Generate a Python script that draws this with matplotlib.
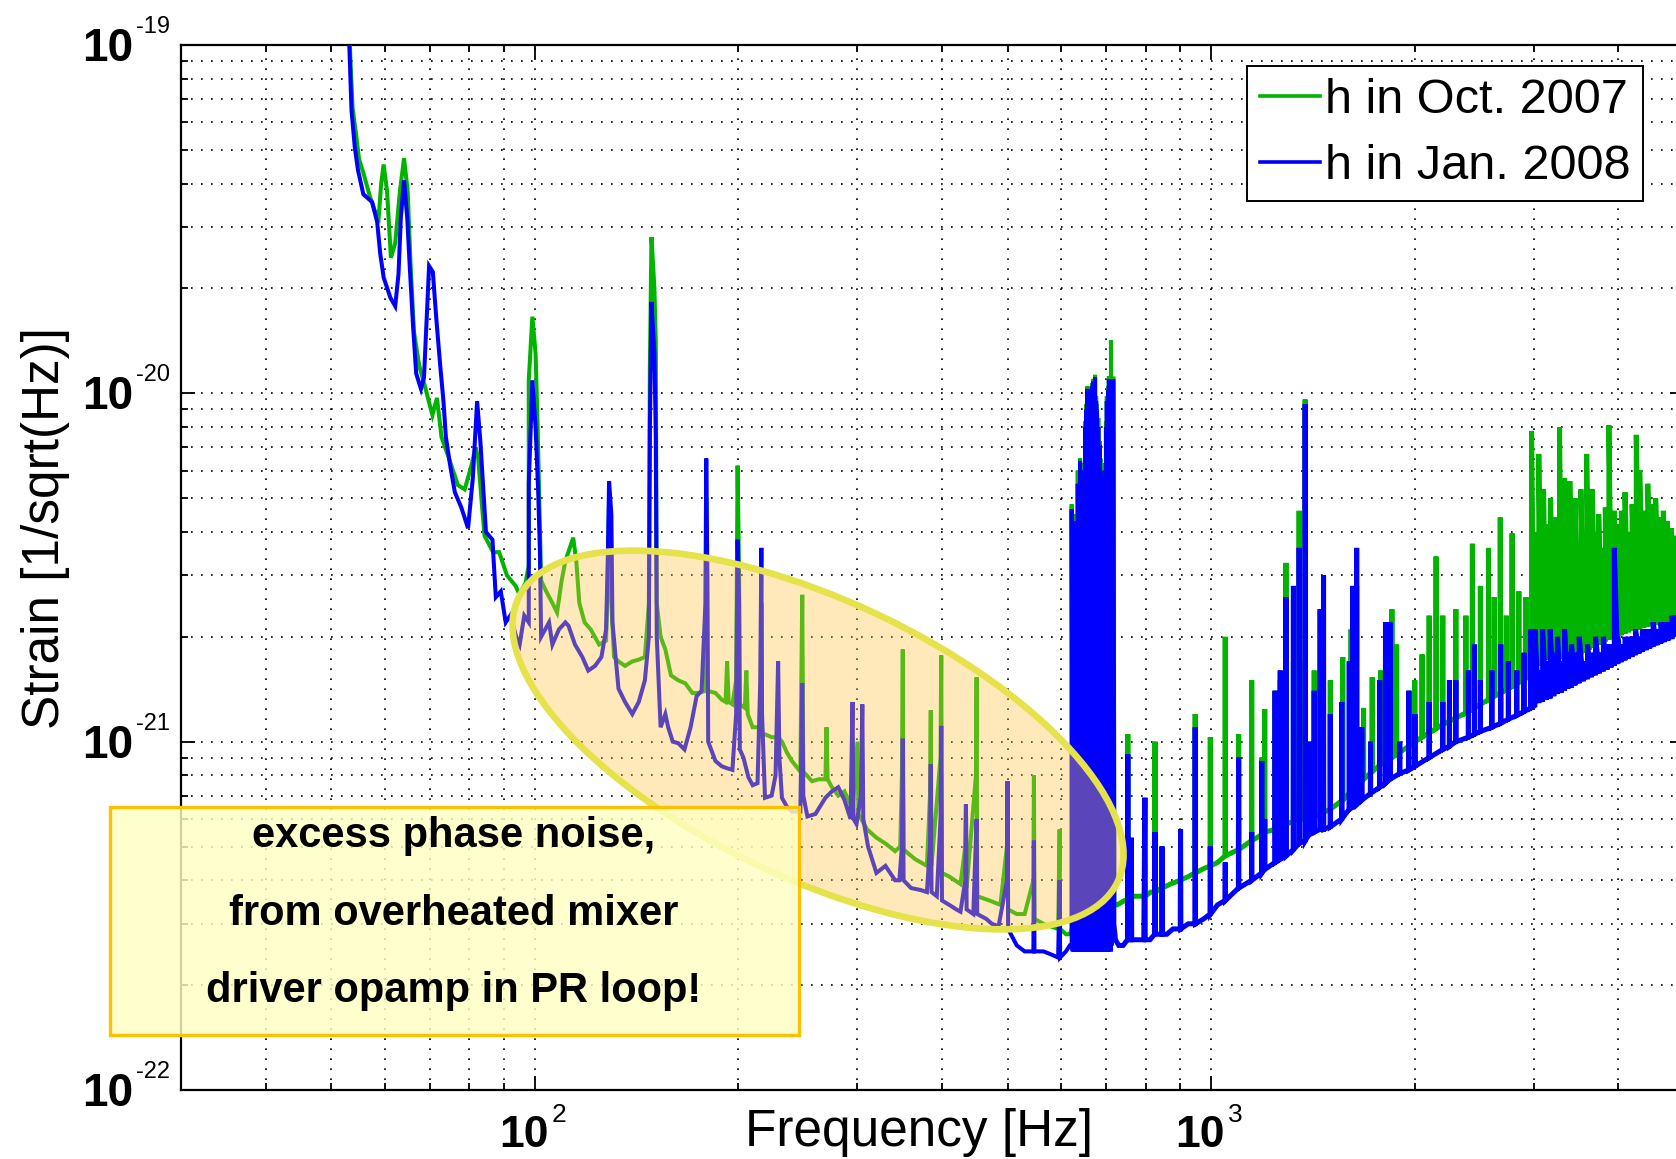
import numpy as np
import matplotlib
matplotlib.use("Agg")
import matplotlib.pyplot as plt
from matplotlib import patches, font_manager as fm
from matplotlib import transforms as mtransforms
from matplotlib.ticker import LogLocator, NullFormatter

# ---------------- data (strain in units of 1e-21 / sqrt(Hz)) ----------------
BLUE_LOW = [
    (52.8, 150), (53.2, 100), (53.6, 65), (54.2, 51), (54.8, 43.7), (55.8, 37.3), (57.5, 35.4),
    (58.5, 31), (59.1, 25.2), (59.8, 21.5), (61.2, 18.8), (62.2, 17.8), (62.9, 22), (63.4, 31.9),
    (64.1, 40.9), (64.8, 31.9), (65.3, 23.8), (66.1, 15.6), (66.8, 11.4), (67.9, 10.3), (68.6, 11.1),
    (69.2, 16.1), (69.8, 23.2), (70.7, 22.3), (71.5, 16.6), (72.5, 12.0), (73.3, 9.5), (73.9, 7.5),
    (75.0, 6.2), (76.2, 5.2), (77.9, 4.7), (79.7, 4.1), (81.0, 5.7), (82.2, 9.5), (83.1, 7.3),
    (83.8, 5.6), (84.7, 4.0), (86.6, 3.8), (87.6, 2.6), (89.1, 2.7), (90.6, 2.2), (92.0, 2.3),
    (93.9, 2.0), (95.0, 1.9), (96.5, 2.3), (98.0, 2.2), (98.0, 5.5), (99.2, 10.9), (100.3, 8.0),
    (101.2, 5.2), (101.8, 3.5), (102.2, 2.0), (105, 2.2), (106.2, 1.9), (108.6, 2.1), (111, 2.2),
    (112.2, 2.15), (114.7, 1.9), (117.6, 1.75), (120, 1.6), (122.8, 1.65), (125.5, 1.75), (127.5, 2.1),
    (128.3, 3.5), (128.8, 5.6), (129.8, 4.5), (130.3, 2.2), (133, 1.42), (136, 1.3), (139.4, 1.2),
    (142.5, 1.3), (145.5, 1.5), (147.5, 2.0), (148.0, 8.0), (148.8, 18.3), (150.3, 13.0), (151.0, 7.5),
    (151.5, 2.0), (153.5, 1.1), (156, 1.2), (157.5, 1.1), (160, 1.0), (163, 0.99), (166.5, 0.95),
    (170, 1.1), (173.5, 1.35), (176.5, 1.4), (178.8, 2.5), (179.3, 6.5), (180, 3.0), (180.5, 1.0),
    (185, 0.88), (189, 0.85), (192, 0.84), (196, 0.83), (198.5, 1.2), (199.5, 3.8), (200.5, 2.5),
    (201, 0.95), (203.5, 0.9), (207, 0.79), (210, 0.75), (213.5, 0.76), (215.5, 1.5), (216.3, 3.6),
    (216.8, 1.2), (219, 0.69), (224, 0.7), (227, 0.8), (229, 1.7), (230, 0.9), (232, 0.69), (236, 0.65),
    (240, 0.63), (247, 0.63), (248.6, 1.47), (249.5, 0.7), (253, 0.61), (260, 0.62), (269, 0.69),
    (275, 0.72), (281, 0.74), (287, 0.68), (293, 0.6), (295, 1.3), (296, 0.6), (299, 0.58),
    (303.5, 0.7), (305, 1.28), (306, 0.6), (311, 0.5), (320, 0.42), (330, 0.44), (341, 0.40),
    (346, 0.40), (349, 0.5), (350, 1.02), (351, 0.4), (360, 0.38), (372, 0.375), (380, 0.37),
    (384, 0.5), (385, 0.86), (386, 0.37), (393, 0.36), (398, 0.6), (399, 1.11), (400, 0.35),
    (410, 0.34), (420, 0.33), (426, 0.325), (433, 0.4), (434, 0.66), (435, 0.33), (445, 0.32),
    (450, 0.6), (451, 0.32), (465, 0.31), (474, 0.30), (485, 0.295), (499, 0.4), (500, 0.77),
    (501, 0.29), (516, 0.26), (530, 0.25), (546, 0.25), (547, 0.52), (548, 0.25), (565, 0.25),
    (580, 0.245), (594, 0.24), (597, 0.4), (598, 0.24), (610, 0.25), (618, 0.26),
]

GREEN_LOW = [
    (52.8, 150), (53.3, 100), (53.8, 66), (54.4, 56), (55.0, 47), (55.8, 43), (57.0, 37), (58.0, 33.5),
    (58.8, 32), (59.3, 40), (59.8, 45.4), (60.5, 38), (61.3, 24.5), (62.2, 27), (63.2, 38), (64.1, 47.3),
    (64.9, 38), (65.5, 24), (66.3, 15), (67.5, 12), (68.8, 10.5), (70.6, 8.65), (71.7, 9.7), (72.8, 7.5),
    (74.5, 6.6), (77.0, 5.45), (78.8, 5.3), (80.6, 6.2), (81.8, 7.0), (82.5, 6.5), (83.4, 5.0),
    (84.3, 3.9), (86.8, 3.5), (88.6, 3.5), (91.0, 3.0), (93.7, 2.8), (94.9, 2.65), (96.9, 2.85),
    (98.0, 3.2), (98.0, 10.9), (99.2, 16.6), (100.3, 13.0), (101.0, 8.0), (101.8, 4.0), (102.2, 2.9),
    (104, 2.7), (106.2, 2.5), (107.9, 2.35), (109.6, 2.9), (111, 3.3), (112.7, 3.6), (114, 3.85),
    (115.2, 3.3), (116.4, 2.5), (118.5, 2.2), (121, 2.1), (124.5, 1.9), (127.5, 1.95), (128.3, 3.0),
    (128.8, 5.0), (129.8, 2.5), (131, 1.75), (133, 1.7), (136, 1.65), (139.4, 1.7), (142.5, 1.72),
    (145.5, 1.75), (147.5, 2.5), (148.0, 12), (148.8, 28.1), (150.3, 20), (151.0, 14), (151.5, 2.5),
    (153.5, 2.0), (156, 1.84), (159, 1.55), (163, 1.5), (167, 1.47), (171, 1.38), (175, 1.38),
    (178.8, 1.4), (179.3, 5.0), (179.8, 1.4), (185, 1.38), (189, 1.32), (191.5, 1.3), (192.5, 1.7),
    (193.5, 1.3), (196, 1.28), (198.5, 1.5), (199.5, 6.2), (200.5, 3.0), (201, 1.28), (204.5, 1.25),
    (205.5, 1.6), (206.5, 1.2), (210, 1.1), (215.5, 1.1), (216.3, 2.5), (216.8, 1.05), (219, 1.05),
    (224, 1.03), (229, 1.03), (232, 1.0), (236, 0.93), (240, 0.88), (247, 0.82), (248.6, 2.64),
    (249.5, 0.82), (257, 0.77), (263, 0.78), (269, 0.78), (270, 1.1), (271, 0.78), (275, 0.74),
    (281, 0.70), (287, 0.72), (295, 0.64), (300, 1.0), (301, 0.62), (310, 0.56), (320, 0.53),
    (330, 0.51), (341, 0.485), (347, 0.50), (349, 0.8), (350, 1.84), (351, 0.49), (365, 0.46),
    (380, 0.44), (384, 0.7), (385, 1.23), (386, 0.44), (398, 0.9), (399, 1.77), (400, 0.42),
    (410, 0.41), (426, 0.39), (433, 0.5), (434, 0.66), (435, 0.38), (449, 0.8), (450, 1.53),
    (451, 0.36), (470, 0.35), (488, 0.34), (499, 0.5), (500, 0.77), (501, 0.33), (516, 0.32),
    (530, 0.32), (546, 0.4), (547, 0.8), (548, 0.31), (565, 0.30), (594, 0.29), (597, 0.56),
    (598, 0.29), (610, 0.28), (618, 0.28),
]

# dense line cluster 620-720 Hz
BLOCK_F = [622, 624, 626, 628, 631, 633, 635, 638, 640, 642, 644, 647, 649, 651, 654, 656, 658,
           660, 662, 664, 667, 669, 671, 673.5, 676, 678, 681, 684, 686, 689, 691, 693, 695, 697,
           699, 701, 704, 706, 708, 711, 713, 716]
BLUE_BLOCK_TOP = [4.65, 3.0, 4.3, 2.5, 4.0, 3.5, 5.5, 4.0, 6.4, 4.5, 5.2, 4.9, 6.0, 8.0, 9.0, 10.3,
                  9.5, 10.2, 9.8, 10.2, 10.5, 10.8, 10.4, 11.1, 9.5, 9.0, 8.0, 7.1, 6.0, 5.5, 4.0,
                  2.34, 3.5, 6.0, 8.0, 9.5, 10.2, 10.95, 10.5, 10.8, 10.6, 10.8]
BLUE_BLOCK_BOT = [0.26, 0.25, 0.26, 0.25, 0.26, 0.25, 0.26, 0.25, 0.26, 0.25, 0.26, 0.25, 0.26, 0.25,
                  0.26, 0.25, 0.26, 0.25, 0.26, 0.25, 0.26, 0.25, 0.26, 0.25, 0.26, 0.25, 0.26, 0.25,
                  0.26, 0.25, 0.26, 0.25, 0.26, 0.25, 0.26, 0.25, 0.26, 0.25, 0.26, 0.25, 0.26, 0.27]
GREEN_BLOCK_TOP = [4.8, 3.2, 4.5, 2.7, 4.3, 3.7, 6.0, 4.3, 6.5, 4.7, 5.5, 5.2, 6.3, 8.3, 9.3, 10.5,
                   9.7, 10.4, 10.0, 10.4, 10.7, 11.0, 10.6, 11.3, 9.8, 9.3, 8.5, 7.3, 6.5, 6.0, 5.8,
                   2.6, 3.8, 6.3, 8.3, 9.8, 10.5, 11.2, 11.0, 14.2, 10.9, 11.0]
GREEN_BLOCK_BOT = [0.29, 0.28, 0.29, 0.28, 0.29, 0.28, 0.29, 0.28, 0.29, 0.28, 0.29, 0.28, 0.29, 0.28,
                   0.29, 0.28, 0.29, 0.28, 0.29, 0.28, 0.29, 0.28, 0.29, 0.28, 0.29, 0.28, 0.29, 0.28,
                   0.29, 0.28, 0.29, 0.28, 0.29, 0.28, 0.29, 0.28, 0.29, 0.28, 0.29, 0.28, 0.29, 0.30]

BLUE_HIGH = [
    (718, 0.30), (722, 0.27), (730, 0.26), (741, 0.26), (752, 0.27), (753, 0.92), (754, 0.27),
    (761, 0.27), (762, 0.53), (763, 0.27), (780, 0.27), (795, 0.27), (798, 0.69), (799, 0.27),
    (812, 0.27), (825, 0.28), (826, 0.55), (827, 0.28), (845, 0.28), (846, 0.50), (847, 0.28),
    (860, 0.28), (878, 0.29), (900, 0.29), (901, 0.56), (902, 0.29), (925, 0.30), (946, 0.30),
    (947, 1.1), (948, 0.30), (975, 0.31), (996, 0.32), (997, 0.50), (998, 0.32), (1022, 0.34),
    (1048, 0.35), (1049, 0.45), (1050, 0.35), (1097, 0.38), (1098, 0.90), (1099, 0.38), (1147, 0.40),
    (1148, 0.55), (1149, 0.40), (1187, 0.42), (1188, 0.88), (1189, 0.42), (1199, 0.43), (1200, 0.60),
    (1201, 0.43), (1242, 0.45), (1243, 1.4), (1244, 0.45), (1264, 0.46), (1265, 1.6), (1266, 0.46),
    (1289, 0.47), (1290, 2.6), (1291, 0.47), (1322, 0.49), (1323, 2.8), (1324, 0.49), (1348, 0.51),
    (1349, 3.6), (1350, 0.51), (1376, 0.52), (1377, 9.3), (1378, 0.52), (1394, 0.54), (1395, 1.0),
    (1396, 0.54), (1419, 0.55), (1420, 1.4), (1421, 0.55), (1448, 0.56), (1449, 2.4), (1450, 0.56),
    (1465, 0.56), (1466, 3.0), (1467, 0.56), (1499, 0.57), (1500, 1.2), (1501, 0.57), (1559, 0.6),
    (1560, 1.3), (1561, 0.6), (1599, 0.64), (1600, 1.7), (1601, 0.64), (1619, 0.65), (1620, 2.8),
    (1621, 0.65), (1640, 0.66), (1641, 3.6), (1642, 0.66), (1669, 0.68), (1670, 1.1), (1671, 0.68),
    (1719, 0.71), (1720, 1.0), (1721, 0.71), (1774, 0.74), (1775, 1.5), (1776, 0.74), (1809, 0.76),
    (1810, 2.2), (1811, 0.76), (1837, 0.78), (1838, 2.2), (1839, 0.78), (1899, 0.81), (1900, 1.0),
    (1901, 0.81), (1959, 0.83), (1960, 1.4), (1961, 0.83), (2000, 0.85), (2001, 1.2), (2002, 0.85),
    (2099, 0.9), (2100, 1.3), (2101, 0.9), (2199, 0.95), (2200, 1.3), (2201, 0.95), (2249, 0.97),
    (2250, 1.5), (2251, 0.97), (2299, 1.0), (2300, 1.5), (2301, 1.0), (2399, 1.03), (2400, 1.6),
    (2401, 1.03), (2449, 1.05), (2450, 1.9), (2451, 1.05), (2499, 1.07), (2500, 1.5), (2501, 1.07),
    (2599, 1.1), (2600, 1.6), (2601, 1.1), (2679, 1.13), (2680, 1.9), (2681, 1.13), (2749, 1.16),
    (2750, 1.7), (2751, 1.16), (2829, 1.19), (2830, 1.6), (2831, 1.19), (2899, 1.22), (2900, 1.8),
    (2901, 1.22), (2969, 1.25), (2970, 2.1), (2971, 1.25),
]

GREEN_HIGH = [
    (718, 0.34), (722, 0.34), (726, 0.34), (745, 0.35), (752, 0.35), (753, 1.05), (754, 0.35),
    (769, 0.36), (797, 0.36), (798, 0.69), (799, 0.36), (814, 0.37), (825, 0.37), (826, 1.0),
    (827, 0.37), (845, 0.38), (846, 0.5), (847, 0.38), (870, 0.39), (900, 0.40), (925, 0.41),
    (946, 0.42), (947, 1.2), (948, 0.42), (970, 0.43), (996, 0.44), (997, 1.03), (998, 0.44),
    (1022, 0.45), (1048, 0.47), (1049, 2.0), (1050, 0.47), (1097, 0.49), (1098, 1.05), (1099, 0.49),
    (1147, 0.52), (1148, 1.5), (1149, 0.52), (1187, 0.54), (1188, 0.9), (1189, 0.54), (1199, 0.55),
    (1200, 1.24), (1201, 0.55), (1242, 0.56), (1243, 1.4), (1244, 0.56), (1264, 0.57), (1265, 1.5),
    (1266, 0.57), (1289, 0.58), (1290, 3.26), (1291, 0.58), (1322, 0.59), (1323, 1.7), (1324, 0.59),
    (1348, 0.6), (1349, 4.6), (1350, 0.6), (1364, 0.6), (1365, 1.7), (1366, 0.6), (1376, 0.6),
    (1377, 9.6), (1378, 0.6), (1419, 0.61), (1420, 1.6), (1421, 0.61), (1448, 0.62), (1449, 1.6),
    (1450, 0.62), (1499, 0.64), (1500, 1.5), (1501, 0.64), (1564, 0.68), (1565, 1.75), (1566, 0.68),
    (1609, 0.72), (1610, 2.1), (1611, 0.72), (1640, 0.74), (1641, 2.8), (1642, 0.74), (1679, 0.78),
    (1680, 1.25), (1681, 0.78), (1729, 0.82), (1730, 1.53), (1731, 0.82), (1779, 0.86), (1780, 1.6),
    (1781, 0.86), (1849, 0.9), (1850, 2.4), (1851, 0.9), (1879, 0.92), (1880, 1.9), (1881, 0.92),
    (1959, 0.97), (1960, 1.4), (1961, 0.97), (1999, 1.0), (2000, 1.5), (2001, 1.0), (2049, 1.03),
    (2050, 1.78), (2051, 1.03), (2099, 1.06), (2100, 2.3), (2101, 1.06), (2149, 1.09), (2150, 3.4),
    (2151, 1.09), (2199, 1.12), (2200, 2.3), (2201, 1.12), (2299, 1.17), (2300, 2.4), (2301, 1.17),
    (2379, 1.21), (2380, 2.3), (2381, 1.21), (2432, 1.24), (2433, 3.7), (2434, 1.24), (2499, 1.28),
    (2500, 2.8), (2501, 1.28), (2569, 1.32), (2570, 3.6), (2571, 1.32), (2619, 1.35), (2620, 2.6),
    (2621, 1.35), (2674, 1.38), (2675, 4.4), (2676, 1.38), (2729, 1.41), (2730, 2.3), (2731, 1.41),
    (2784, 1.44), (2785, 3.96), (2786, 1.44), (2849, 1.48), (2850, 2.7), (2851, 1.48), (2919, 1.52),
    (2920, 2.6), (2921, 1.52), (2950, 1.6),
]

# dense lines above 3 kHz
BLUE_HF_F = [3010, 3050, 3090, 3130, 3170, 3210, 3250, 3290, 3330, 3370, 3410, 3450, 3500, 3550,
             3600, 3650, 3700, 3750, 3800, 3850, 3900, 3944, 3990, 4040, 4090, 4140, 4190, 4240,
             4290, 4340, 4400, 4450, 4500, 4560, 4620, 4680, 4740, 4800, 4860, 4950]
BLUE_HF_TOP = [2.1, 1.6, 2.1, 1.7, 2.1, 1.8, 2.0, 1.7, 2.1, 1.8, 1.9, 1.8, 2.0, 1.7, 1.9, 1.8, 2.0,
               1.8, 2.0, 1.9, 1.9, 3.6, 2.0, 1.9, 2.0, 2.0, 2.0, 2.1, 2.0, 2.1, 2.1, 2.1, 2.2, 2.1,
               2.2, 2.2, 2.2, 2.3, 2.3, 2.3]
BLUE_HF_BOT = [1.27, 1.29, 1.3, 1.32, 1.33, 1.35, 1.37, 1.38, 1.4, 1.42, 1.43, 1.45, 1.47, 1.49,
               1.51, 1.53, 1.55, 1.57, 1.59, 1.61, 1.63, 1.65, 1.67, 1.69, 1.71, 1.73, 1.75, 1.77,
               1.79, 1.81, 1.83, 1.85, 1.87, 1.89, 1.91, 1.93, 1.95, 1.97, 2.0, 2.02]
GREEN_HF_F = [2976, 3000, 3025, 3050, 3075, 3100, 3125, 3150, 3175, 3200, 3225, 3250, 3273, 3300,
              3330, 3360, 3390, 3420, 3450, 3485, 3520, 3555, 3590, 3625, 3660, 3700, 3740, 3780,
              3825, 3872, 3910, 3944, 3990, 4040, 4090, 4140, 4190, 4250, 4300, 4360, 4420, 4480,
              4540, 4600, 4660, 4720, 4790, 4860, 4950]
GREEN_HF_TOP = [7.8, 4.0, 3.2, 6.7, 3.5, 5.3, 3.4, 4.2, 5.0, 3.6, 4.4, 3.5, 8.0, 4.0, 5.7, 3.8, 5.6,
                3.5, 5.0, 3.2, 5.3, 3.4, 6.7, 3.8, 5.3, 4.0, 4.5, 3.6, 4.7, 8.1, 4.4, 4.6, 4.2, 4.6,
                5.2, 4.0, 4.8, 7.6, 6.0, 4.6, 5.5, 4.8, 5.0, 4.4, 4.6, 4.3, 4.1, 3.9, 3.9]
GREEN_HF_BOT = [1.55, 1.6, 1.62, 1.65, 1.68, 1.7, 1.72, 1.74, 1.76, 1.78, 1.78, 1.76, 1.74, 1.73,
                1.72, 1.72, 1.73, 1.74, 1.74, 1.76, 1.78, 1.8, 1.82, 1.84, 1.86, 1.88, 1.9, 1.92,
                1.94, 1.96, 1.98, 2.0, 2.0, 2.02, 2.04, 2.06, 2.08, 2.1, 2.1, 2.12, 2.14, 2.15,
                2.16, 2.18, 2.19, 2.2, 2.21, 2.22, 2.24]

LABELS = ["h in Oct. 2007", "h in Jan. 2008"]
COLORS = ["#00b400", "#0000ff"]
X_TICKS = [100, 1000]
X_EXP = ["2", "3"]
Y_TICKS = [1e-22, 1e-21, 1e-20, 1e-19]
Y_EXP = ["-22", "-21", "-20", "-19"]
NOTE = ["excess phase noise,", "from overheated mixer", "driver opamp in PR loop!"]
UNIT = 1e-21


def pick(names):
    for n in names:
        try:
            fm.findfont(fm.FontProperties(family=n), fallback_to_default=False)
            return n
        except Exception:
            pass
    return "DejaVu Sans"


SANS = pick(["Liberation Sans", "Arial", "DejaVu Sans"])
NARROW = pick(["Liberation Sans Narrow", "Arial Narrow"])
HAS_NARROW = NARROW != "DejaVu Sans"
if not HAS_NARROW:
    NARROW = SANS


def zigzag(fs, tops, bots):
    out = []
    for f, t, b in zip(fs, tops, bots):
        out += [(f, b), (f, t)]
    return out


# part below ~720 Hz (thinner trace) and above (denser, thicker-looking trace)
green_a = GREEN_LOW + zigzag(BLOCK_F, GREEN_BLOCK_TOP, GREEN_BLOCK_BOT)
green_b = green_a[-1:] + GREEN_HIGH + zigzag(GREEN_HF_F, GREEN_HF_TOP, GREEN_HF_BOT)
blue_a = BLUE_LOW + zigzag(BLOCK_F, BLUE_BLOCK_TOP, BLUE_BLOCK_BOT)
blue_b = blue_a[-1:] + BLUE_HIGH + zigzag(BLUE_HF_F, BLUE_HF_TOP, BLUE_HF_BOT)

# ---------------- figure ----------------
W, H = 1676, 1159
fig = plt.figure(figsize=(W / 100, H / 100), dpi=100)
fig.patch.set_facecolor("white")
ax = fig.add_axes([181 / W, 1 - 1090 / H, (1684 - 181) / W, (1090 - 45) / H])
ax.set_xscale("log")
ax.set_yscale("log")

for seg, lw, lab in ((green_a, 2.9, LABELS[0]), (green_b, 3.6, None)):
    f, h = np.array(seg).T
    ax.plot(f, h * UNIT, color=COLORS[0], lw=lw, label=lab, zorder=3, solid_joinstyle="miter")
for seg, lw, lab in ((blue_a, 2.9, LABELS[1]), (blue_b, 3.6, None)):
    f, h = np.array(seg).T
    ax.plot(f, h * UNIT, color=COLORS[1], lw=lw, label=lab, zorder=4, solid_joinstyle="miter")

ax.set_xlim(30, 5000)
ax.set_ylim(1e-22, 1e-19)

for axis in (ax.xaxis, ax.yaxis):
    axis.set_major_locator(LogLocator(base=10, numticks=12))
    axis.set_minor_locator(LogLocator(base=10, subs=[2, 3, 4, 5, 6, 7, 8, 9], numticks=12))
    axis.set_major_formatter(NullFormatter())
    axis.set_minor_formatter(NullFormatter())

ax.grid(True, which="both", color="black", linestyle=(0, (1, 5)), linewidth=1.2, zorder=1)
ax.tick_params(which="both", direction="in", top=True, right=True, width=1.3, color="black")
ax.tick_params(which="major", length=10)
ax.tick_params(which="minor", length=5)
for s in ax.spines.values():
    s.set_linewidth(1.6)

# tick labels (10 with raised exponent)
def off(dx, dy):
    return mtransforms.ScaledTranslation(dx / 100, dy / 100, fig.dpi_scale_trans)

ytr = mtransforms.blended_transform_factory(fig.transFigure, ax.transData)
for v, e in zip(Y_TICKS, Y_EXP):
    fig.text(133 / W, v, "10", transform=ytr + off(0, -16), ha="right", va="baseline",
             fontsize=33, fontweight="bold", family=SANS)
    fig.text(136 / W, v, e, transform=ytr + off(0, 12), ha="left", va="baseline",
             fontsize=17, family=SANS)
xtr = mtransforms.blended_transform_factory(ax.transData, fig.transFigure)
for v, e in zip(X_TICKS, X_EXP):
    fig.text(v, 1 - 1147 / H, "10", transform=xtr + off(14, 0), ha="right", va="baseline",
             fontsize=32, fontweight="bold", family=SANS)
    fig.text(v, 1 - 1122 / H, e, transform=xtr + off(17, 0), ha="left", va="baseline",
             fontsize=19, family=SANS)

fig.text(919 / W, 1 - 1146 / H, "Frequency [Hz]", ha="center", va="baseline",
         fontsize=37, family=SANS)
fig.text(59 / W, 1 - 528 / H, "Strain [1/sqrt(Hz)]", ha="center", va="baseline",
         rotation=90, rotation_mode="anchor", fontsize=37, family=SANS)

handles, labels = ax.get_legend_handles_labels()
leg = ax.legend(handles, labels, loc="upper right", bbox_to_anchor=(1643 / W, 1 - 66 / H),
                bbox_transform=fig.transFigure, borderaxespad=0, fancybox=False,
                framealpha=1, edgecolor="black", prop={"family": SANS, "size": 35},
                handlelength=1.25, handletextpad=0.1, borderpad=0.25, labelspacing=0.42)
leg.get_frame().set_linewidth(1.4)
for l in leg.get_lines():
    l.set_linewidth(2.6)

# ellipse highlight, in figure pixel coordinates
pix = mtransforms.Affine2D().scale(1 / 100) + fig.dpi_scale_trans
ell = patches.Ellipse((818, H - 740), 663, 278, angle=-25.3, transform=pix,
                      facecolor=(1.0, 0.76, 0.26, 0.36), edgecolor="#e6e24c", lw=4.8, zorder=5)
fig.patches.append(ell)

box = patches.Rectangle((110, H - 1035), 689, 228, transform=pix,
                        facecolor=(1.0, 1.0, 0.76, 0.82), edgecolor="#ffc000", lw=2.4, zorder=6)
fig.patches.append(box)

note_size = 36 if HAS_NARROW else 30
for txt, yc in zip(NOTE, [834, 912, 989]):
    fig.text(454 / W, 1 - (yc + 13) / H, txt, ha="center", va="baseline", fontsize=note_size,
             fontweight="bold", family=NARROW, zorder=7)

fig.savefig("out.png", dpi=100, facecolor="white")
